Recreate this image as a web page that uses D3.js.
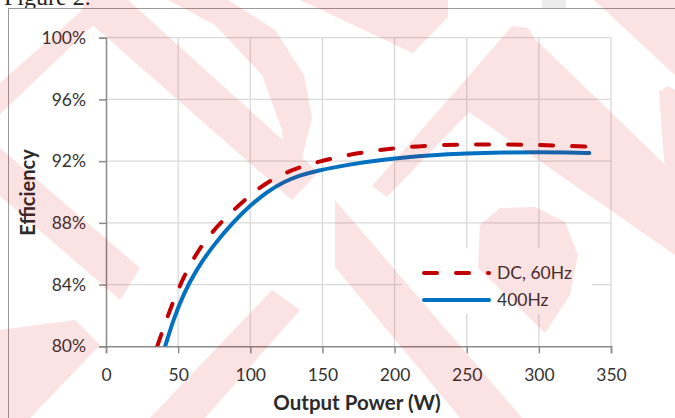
<!DOCTYPE html>
<html>
<head>
<meta charset="utf-8">
<script src="https://cdn.jsdelivr.net/npm/d3@7"></script>
<style>
  html, body { margin: 0; padding: 0; background: #fff; }
  svg { display: block; }
  text { font-family: Lato, "Open Sans", sans-serif; fill: #333; }
</style>
</head>
<body>
<svg id="chart" width="675" height="418"></svg>
<script>
// Efficiency (%) versus output power (W)
const dcPower   = [35.5, 44, 51.8, 61, 73, 89, 106, 124, 146, 167, 189, 210, 233, 255, 278, 300, 322, 335];
const dcEff     = [80.0, 82.3, 84.1, 85.8, 87.4, 88.9, 90.3, 91.3, 91.95, 92.4, 92.72, 92.94, 93.05, 93.08, 93.08, 93.05, 92.98, 92.93];
const hzPower   = [41, 46.6, 53.6, 62.8, 74.4, 88.2, 99.8, 111.4, 123, 134.4, 146, 168, 195, 225, 250, 275, 300, 320, 335];
const hzEff     = [80.0, 81.7, 83.38, 85.0, 86.55, 88.05, 89.12, 90.0, 90.65, 91.08, 91.38, 91.78, 92.15, 92.38, 92.5, 92.56, 92.58, 92.56, 92.53];
const seriesNames = ["DC, 60Hz", "400Hz"];
const xTicks = [0, 50, 100, 150, 200, 250, 300, 350];
const yTicks = [80, 84, 88, 92, 96, 100];

const svg = d3.select("#chart");
const plot = { left: 106, right: 611, top: 37.7, bottom: 346.3 };

const x = d3.scaleLinear().domain([0, 350]).range([plot.left, plot.right]);
const y = d3.scaleLinear().domain([80, 100]).range([plot.bottom, plot.top]);

// page caption peeking in above the chart frame
svg.append("text")
  .attr("x", 4).attr("y", 5)
  .style("font-family", "'Liberation Serif', 'DejaVu Serif', serif")
  .style("font-size", "24px")
  .style("fill", "#222")
  .text("Figure 2.");
svg.append("rect").attr("x", 542).attr("y", 0).attr("width", 24).attr("height", 8).attr("fill", "#ececec");

// chart frame
svg.append("rect")
  .attr("x", 8.5).attr("y", 8.5)
  .attr("width", 720).attr("height", 500)
  .attr("fill", "#fff")
  .attr("stroke", "#9a9a9a")
  .attr("stroke-width", 1);

// gridlines
const grid = svg.append("g").attr("stroke", "#d9d9d9").attr("stroke-width", 1.3);
grid.selectAll("line.v").data(xTicks.slice(1)).join("line")
  .attr("x1", d => x(d)).attr("x2", d => x(d))
  .attr("y1", plot.top).attr("y2", plot.bottom);
grid.selectAll("line.h").data(yTicks.slice(1)).join("line")
  .attr("x1", plot.left).attr("x2", plot.right)
  .attr("y1", d => y(d)).attr("y2", d => y(d));

// axes
const axisColor = "#8a8a8a";
const gx = svg.append("g")
  .attr("transform", `translate(0,${plot.bottom})`)
  .call(d3.axisBottom(x).tickValues(xTicks).tickSize(7).tickPadding(15).tickFormat(d3.format("d")));
const gy = svg.append("g")
  .attr("transform", `translate(${plot.left},0)`)
  .call(d3.axisLeft(y).tickValues(yTicks).tickSize(7).tickPadding(13).tickFormat(d => d + "%"));
[gx, gy].forEach(g => {
  g.select(".domain").attr("stroke", axisColor).attr("stroke-width", 1.5);
  g.selectAll(".tick line").attr("stroke", axisColor).attr("stroke-width", 1.5);
  g.selectAll(".tick text")
    .style("font-family", "Lato, sans-serif")
    .style("font-size", "17.5px")
    .attr("fill", "#333");
});

// axis titles
svg.append("text")
  .attr("x", 357).attr("y", 410)
  .attr("text-anchor", "middle")
  .style("font-size", "20.5px").style("font-weight", "bold")
  .style("fill", "#2b2b2b")
  .text("Output Power (W)");
svg.append("text")
  .attr("transform", "translate(35,192.5) rotate(-90)")
  .attr("text-anchor", "middle")
  .style("font-size", "20px").style("font-weight", "bold")
  .style("fill", "#2b2b2b")
  .text("Efficiency");

// series
svg.append("clipPath").attr("id", "plotClip")
  .append("rect")
  .attr("x", plot.left).attr("y", plot.top)
  .attr("width", plot.right - plot.left).attr("height", plot.bottom - plot.top);

const line = d3.line().x(d => x(d[0])).y(d => y(d[1])).curve(d3.curveBasis);
const dcData = dcPower.map((p, i) => [p, dcEff[i]]);
const hzData = hzPower.map((p, i) => [p, hzEff[i]]);

const lines = svg.append("g").attr("clip-path", "url(#plotClip)");
lines.append("path").datum(hzData)
  .attr("d", line)
  .attr("fill", "none")
  .attr("stroke", "#0070c0")
  .attr("stroke-width", 4)
  .attr("stroke-linecap", "round");
lines.append("path").datum(dcData)
  .attr("d", line)
  .attr("fill", "none")
  .attr("stroke", "#c00000")
  .attr("stroke-width", 4)
  .attr("stroke-linecap", "round")
  .attr("stroke-dasharray", "13 19");

// legend
const lg = svg.append("g");
lg.append("rect")
  .attr("x", 402).attr("y", 248).attr("width", 190).attr("height", 66)
  .attr("fill", "#fff");
const legendItems = [
  { name: seriesNames[0], color: "#c00000", dash: "13 19", yy: 273, ty: 279 },
  { name: seriesNames[1], color: "#0070c0", dash: null, yy: 300, ty: 305.5 }
];
legendItems.forEach(it => {
  lg.append("line")
    .attr("x1", 424).attr("x2", 489)
    .attr("y1", it.yy).attr("y2", it.yy)
    .attr("stroke", it.color).attr("stroke-width", 4)
    .attr("stroke-linecap", "round")
    .attr("stroke-dasharray", it.dash);
  lg.append("text")
    .attr("x", 497).attr("y", it.ty)
    .style("font-size", "17.5px")
    .text(it.name);
});

// faint red publisher watermark laid over the figure
const mark = [
  [[0,83],[80,12],[92,9],[99,20],[0,114]],
  [[86,0],[128,0],[318,172],[292,200],[80,14]],
  [[168,0],[228,0],[275,30],[304,75],[312,118],[302,158],[286,182],[282,130],[262,75],[215,25]],
  [[300,0],[448,0],[448,17],[413,53]],
  [[512,26],[528,28],[534,38],[650,150],[675,175],[675,255],[469,112],[387,197],[372,186],[448,100]],
  [[594,0],[675,0],[675,75]],
  [[659,92],[668,86],[675,90],[675,210],[664,160]],
  [[335,200],[335,267],[460,418],[522,418]],
  [[480,225],[500,208],[535,207],[565,222],[578,255],[570,295],[545,333],[478,268]],
  [[0,148],[0,196],[120,300],[140,268]],
  [[0,330],[0,418],[30,418],[100,345],[75,320]],
  [[150,418],[205,418],[300,310],[272,290]]
];
svg.append("g")
  .attr("opacity", 0.105)
  .attr("pointer-events", "none")
  .selectAll("path").data(mark).join("path")
  .attr("fill", "#e60000")
  .attr("d", d => "M" + d.join("L") + "Z");
</script>
</body>
</html>
